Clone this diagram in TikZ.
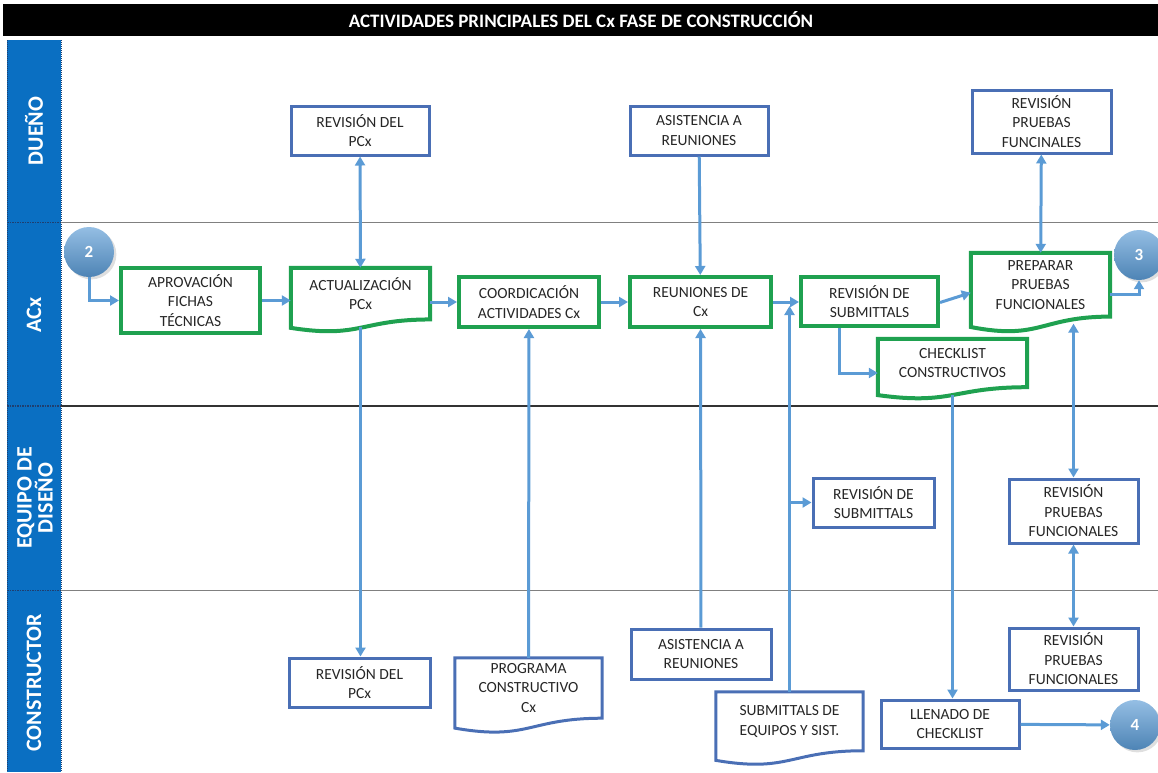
\documentclass[tikz,border=0pt]{standalone}
\usepackage{fontspec}
\setmainfont{Carlito}
\usetikzlibrary{arrows.meta,calc,shadows}

\definecolor{laneblue}{HTML}{0A6FC2}
\definecolor{lanedot}{HTML}{1F3F70}
\definecolor{boxblue}{HTML}{4A6FB5}
\definecolor{boxgreen}{HTML}{1FA150}
\definecolor{linkblue}{HTML}{5B9BD5}

\tikzstyle{lane}=[rotate=90,text=white,font=\fontsize{22}{21}\selectfont\bfseries,align=center,inner sep=0pt]
\tikzstyle{txt}=[font=\fontsize{15.5}{19.5}\selectfont,text=black!85,align=center,inner sep=0pt]
\tikzstyle{actbox}=[txt,draw=boxgreen,line width=4pt]
\tikzstyle{revbox}=[txt,draw=boxblue,line width=3pt]
\tikzstyle{conn}=[draw=linkblue,line width=3pt,>={Triangle[length=9pt,width=10pt]}]
\tikzstyle{ball}=[circle,minimum size=50pt,inner sep=0pt,top color=linkblue!65,bottom color=linkblue!85!black,drop shadow={opacity=0.25},text=white,font=\fontsize{17}{17}\selectfont\bfseries]

% outline of a document box: node, colour, width, depth of the wave
\newcommand{\wavebox}[3]{%
  \draw[#2] (#1.north west) -- (#1.north east) -- (#1.south east)
    .. controls (#1.south) and ($(#1.south)+(0,#3*2.31)$) .. ($(#1.south west)+(0,#3)$) -- cycle;}

\begin{document}
\begin{tikzpicture}[x=1pt,y=-1pt]
    \useasboundingbox (0,0) rectangle (1158,772);
    % title and lanes
    \fill[black] (3,4) rectangle (1158,36);
    \node (title)[text=white,font=\fontsize{19}{19}\selectfont\bfseries] at (581,20) {ACTIVIDADES PRINCIPALES DEL Cx FASE DE CONSTRUCCIÓN};
    \fill[laneblue] (7,40) rectangle (61,772);
    \draw[lanedot,densely dotted,line width=1pt] (7,40) -- (7,772) (61,40) -- (61,772);
    \draw[lanedot,densely dotted,line width=1.5pt] (7,222.7) -- (61,222.7) (7,406) -- (61,406) (7,590.7) -- (61,590.7);
    \draw[gray,line width=1.5pt] (61,222.7) -- (1158,222.7);
    \draw[black!80,line width=1.2pt] (61,406) -- (1158,406);
    \draw[gray,line width=1.5pt] (61,590.7) -- (1158,590.7);
    \node (l1)[lane] at (34,131) {DUEÑO};
    \node (l2)[lane] at (34,315) {ACx};
    \node (l3)[lane] at (35,498) {EQUIPO DE\\DISEÑO};
    \node (l4)[lane] at (34,683) {CONSTRUCTOR};

    % DUENO
    \node (revpcxA)[revbox,minimum width=138pt,minimum height=49pt] at (360,130.5) {REVISIÓN DEL\\PCx};
    \node (asistA)[revbox,minimum width=138pt,minimum height=49pt] at (699,130.5) {ASISTENCIA A\\REUNIONES};
    \node (revprA)[revbox,minimum width=139pt,minimum height=63pt] at (1041.5,121.5) {REVISIÓN\\PRUEBAS\\FUNCINALES};

    % ACx
    \node (c2)[ball] at (89,252) {2};
    \node (aprov)[actbox,minimum width=139pt,minimum height=65pt] at (190.5,300.5) {APROVACIÓN\\FICHAS\\TÉCNICAS};
    \node (act)[txt,minimum width=139pt,minimum height=51.3pt] at (360.5,293.6) {ACTUALIZACIÓN\\PCx};
    \node (coord)[actbox,minimum width=140pt,minimum height=50pt] at (529,302) {COORDICACIÓN\\ACTIVIDADES Cx};
    \node (reun)[actbox,minimum width=141pt,minimum height=50pt] at (700.5,302) {REUNIONES DE\\Cx};
    \node (revsubA)[actbox,minimum width=137pt,minimum height=49pt] at (869.5,301.5) {REVISIÓN DE\\SUBMITTALS};
    \node (prep)[txt,minimum width=139pt,minimum height=63.4pt] at (1040.5,284.7) {PREPARAR\\PRUEBAS\\FUNCIONALES};
    \node (check)[txt,minimum width=149pt,minimum height=48pt] at (952.5,363) {CHECKLIST\\CONSTRUCTIVOS};
    \node (c3)[ball] at (1139,255) {3};

    % EQUIPO DE DISENO
    \node (revsubB)[revbox,minimum width=121pt,minimum height=49pt] at (873.5,502.5) {REVISIÓN DE\\SUBMITTALS};
    \node (revprB)[revbox,minimum width=129pt,minimum height=64pt] at (1073.5,511) {REVISIÓN\\PRUEBAS\\FUNCIONALES};

    % CONSTRUCTOR
    \node (revpcxB)[revbox,minimum width=141pt,minimum height=49pt] at (359.5,682.5) {REVISIÓN DEL\\PCx};
    \node (prog)[txt,minimum width=147pt,minimum height=60pt] at (528.5,688) {PROGRAMA\\CONSTRUCTIVO\\Cx};
    \node (asistB)[revbox,minimum width=140pt,minimum height=50pt] at (701,654) {ASISTENCIA A\\REUNIONES};
    \node (sub)[txt,minimum width=147pt,minimum height=58.5pt] at (789.5,721.3) {SUBMITTALS DE\\EQUIPOS Y SIST.};
    \node (llen)[revbox,minimum width=138pt,minimum height=48pt] at (950,724) {LLENADO DE\\CHECKLIST};
    \node (revprC)[revbox,minimum width=129pt,minimum height=62pt] at (1073.5,659) {REVISIÓN\\PRUEBAS\\FUNCIONALES};
    \node (c4)[ball] at (1135,725) {4};

    % document outlines
    \wavebox{act}{boxgreen,line width=4pt}{8.4}
    \wavebox{prep}{boxgreen,line width=4pt}{10.4}
    \wavebox{check}{boxgreen,line width=4pt}{7.9}
    \wavebox{prog}{boxblue,line width=3pt}{9.9}
    \wavebox{sub}{boxblue,line width=3pt}{9.6}

    % connectors
    \draw[conn,->] (c2) |- (aprov);
    \draw[conn,->] (aprov.east) -- (aprov.east -| act.west);
    \draw[conn,->] (act.east |- coord.west) -- (coord.west);
    \draw[conn,->] (coord) -- (reun);
    \draw[conn,->] (reun.east) -- (reun.east -| revsubA.west);
    \draw[conn,->] ($(revsubA.east)+(0,1)$) -- ($(prep.west)+(0,8)$);
    \draw[conn,->] ($(prep.east)+(0,10)$) -| (c3);
    \draw[conn,<->] (revpcxA) -- (act);
    \draw[conn,->] ($(act.south)+(0,8)$) -- (act.south |- revpcxB.north);
    \draw[conn,->] (asistA) -- (reun);
    \draw[conn,->] (asistB) -- (reun);
    \draw[conn,->] (prog) -- (coord);
    \draw[conn,->] (sub.north) -- ($(reun.east -| sub.north)+(0,4)$);
    \draw[conn,->] (sub.north |- revsubB.west) -- (revsubB.west);
    \draw[conn,<->] (revprA) -- (prep);
    \draw[conn,->] ($(revsubA.south west)+(40,0)$) |- ($(check.west)+(0,10)$);
    \draw[conn,->] ($(check.south)+(0,8)$) -- (check.south |- llen.north);
    \draw[conn,<->] ($(prep.south)+(33,7)$) -- (revprB.north);
    \draw[conn,<->] (revprB) -- (revprC);
    \draw[conn,->] (llen) -- (c4);
\end{tikzpicture}
\end{document}
